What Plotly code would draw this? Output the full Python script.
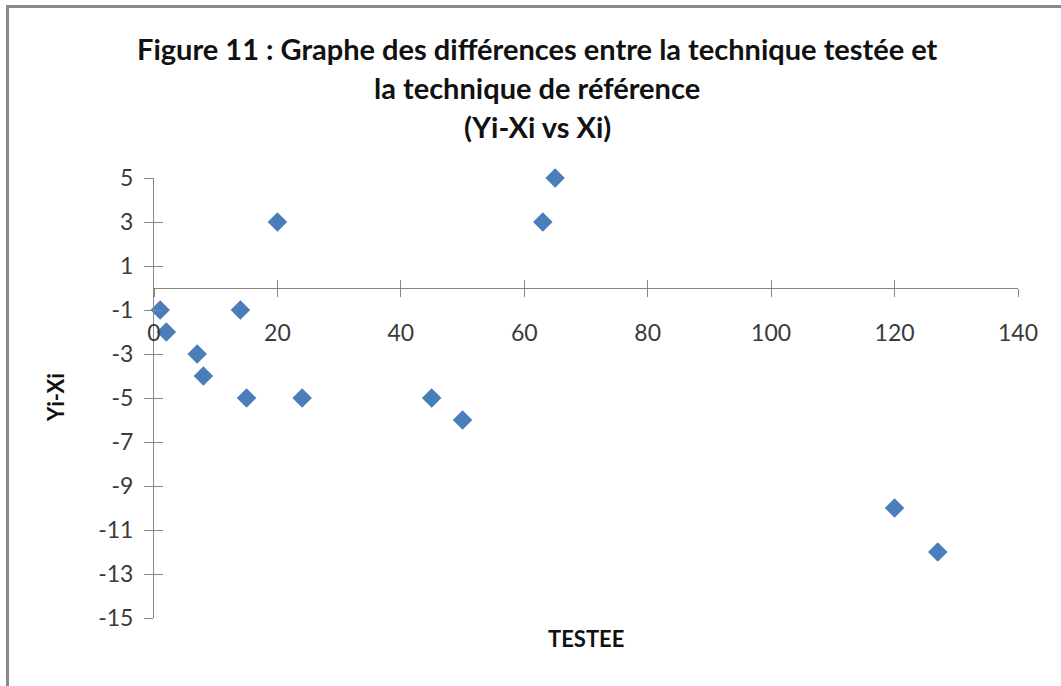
import plotly.graph_objects as go

# Data
testee_x = [1, 2, 7, 8, 14, 15, 20, 24, 45, 50, 63, 65, 120, 127]
diff_y = [-1, -2, -3, -4, -1, -5, 3, -5, -5, -6, 3, 5, -10, -12]

x_ticks = [0, 20, 40, 60, 80, 100, 120, 140]
y_ticks = [-15, -13, -11, -9, -7, -5, -3, -1, 1, 3, 5]

title_lines = [
    "Figure 11 : Graphe des différences entre la technique testée et",
    "la technique de référence",
    "(Yi-Xi vs Xi)",
]
x_title = "TESTEE"
y_title = "Yi-Xi"

W, H = 1061, 686
ML, MR, MT, MB = 154, 43, 178, 68
PW, PH = W - ML - MR, H - MT - MB


def px(xp):
    return (xp - ML) / PW


def py(yp):
    return (H - MB - yp) / PH


AXC = "#868686"
TXT = "#3a3a3a"
FONT = "Lato"

fig = go.Figure()
fig.add_trace(go.Scatter(
    x=testee_x, y=diff_y, mode="markers", cliponaxis=False,
    marker=dict(symbol="diamond", size=15, color="#4a7ebb", line=dict(width=0)),
    showlegend=False, hoverinfo="x+y",
))
# invisible trace to carry the overlay axes (inner half of crossing ticks)
fig.add_trace(go.Scatter(x=[None], y=[None], xaxis="x2", yaxis="y2",
                         showlegend=False, hoverinfo="skip"))

y0_frac = (0 - y_ticks[0]) / (y_ticks[-1] - y_ticks[0])

common_x = dict(range=[x_ticks[0], x_ticks[-1]], tickvals=x_ticks, showgrid=False,
                zeroline=False, anchor="free", position=y0_frac, tickcolor=AXC,
                tickwidth=1, ticklen=8)
common_y = dict(range=[y_ticks[0], y_ticks[-1]], tickvals=y_ticks, showgrid=False,
                zeroline=False, tickcolor=AXC, tickwidth=1, ticklen=9)

fig.update_layout(
    width=W, height=H,
    margin=dict(l=ML, r=MR, t=MT, b=MB, pad=0),
    paper_bgcolor="white", plot_bgcolor="white",
    font=dict(family=FONT, color=TXT),
    xaxis=dict(**common_x, showline=True, linecolor=AXC, linewidth=1,
               ticks="outside", ticktext=[str(v) for v in x_ticks],
               tickfont=dict(family=FONT, size=23, color=TXT),
               ticklabelstandoff=16),
    yaxis=dict(**common_y, showline=True, linecolor=AXC, linewidth=1,
               ticks="outside", ticktext=[str(v) for v in y_ticks],
               tickfont=dict(family=FONT, size=23, color=TXT),
               ticklabelstandoff=6),
    xaxis2=dict(**common_x, overlaying="x", ticks="inside", showticklabels=False,
                showline=False),
    yaxis2=dict(**common_y, overlaying="y", ticks="inside", showticklabels=False,
                showline=False, anchor="x2"),
)

title_y = [48, 87, 127]
for line, yy in zip(title_lines, title_y):
    fig.add_annotation(text="<b>" + line + "</b>", xref="paper", yref="paper",
                       x=px(537), y=py(yy), xanchor="center", yanchor="middle",
                       showarrow=False, font=dict(family=FONT, size=29, color="#111111"))

fig.add_annotation(text="<b>" + x_title + "</b>", xref="paper", yref="paper",
                   x=px(586), y=py(638), xanchor="center", yanchor="middle",
                   showarrow=False, font=dict(family=FONT, size=22, color="#111111"))
fig.add_annotation(text="<b>" + y_title + "</b>", xref="paper", yref="paper",
                   x=px(55), y=py(398), xanchor="center", yanchor="middle",
                   textangle=-90, showarrow=False,
                   font=dict(family=FONT, size=22, color="#111111"))

# outer chart frame (top and left edges visible in the reference)
fig.add_shape(type="line", xref="paper", yref="paper", x0=px(6), x1=px(1061),
              y0=py(6.5), y1=py(6.5), line=dict(color="#8a8a8a", width=3))
fig.add_shape(type="line", xref="paper", yref="paper", x0=px(7.5), x1=px(7.5),
              y0=py(5), y1=py(686), line=dict(color="#8a8a8a", width=3))

fig.write_html("out.html")
